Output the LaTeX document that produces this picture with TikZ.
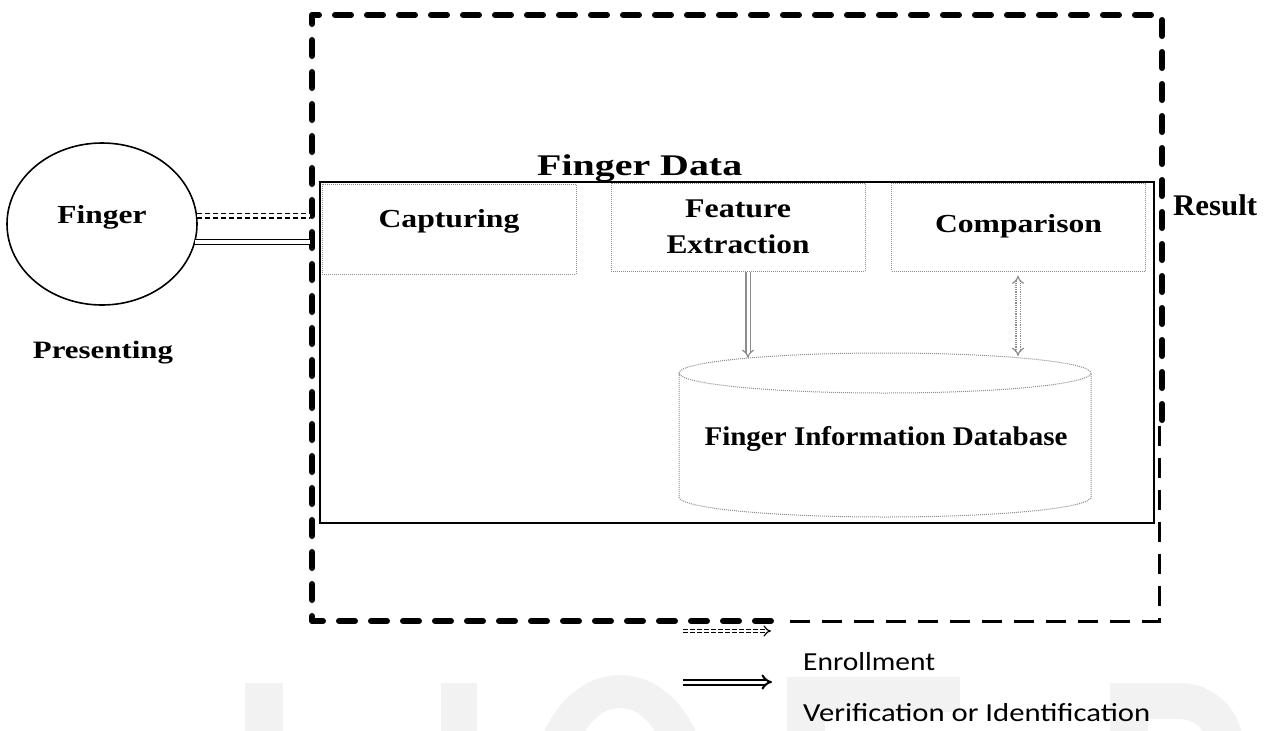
\documentclass[tikz,border=0pt]{standalone}
\usepackage{fontspec}
\setmainfont{Liberation Serif}
\newfontfamily\legendfont{Carlito}
\usetikzlibrary{arrows.meta,shapes.geometric}
\newcommand\fitw[2]{\resizebox{#1pt}{\height}{#2}}
\definecolor{wmgray}{gray}{0.95}
\definecolor{boxgray}{gray}{0.55}
\begin{document}
\begin{tikzpicture}[x=1pt,y=-1pt,
  lbl/.style={inner sep=0pt, anchor=base, font=\bfseries\fontsize{26}{30}\selectfont},
  stagebox/.style={draw=boxgray, densely dotted, line width=1pt, inner sep=0pt, minimum width=254pt, font=\bfseries\fontsize{26}{30}\selectfont},
  border/.style={line width=6pt, dash pattern=on 16pt off 16pt, line cap=round, line join=round},
  thinborder/.style={line width=3pt, dash pattern=on 20pt off 12pt},
  dbline/.style={draw=boxgray, densely dotted, line width=1pt},
  garrow/.style={draw=boxgray, double, double distance=3pt, line width=1.2pt, -{Implies}},
  garrowtwo/.style={draw=boxgray, double, double distance=3pt, line width=1.2pt, densely dotted, {Implies}-{Implies}},
  dashdbl/.style={double, double distance=3pt, line width=1.5pt, dash pattern=on 5pt off 3pt},
  soliddbl/.style={double, double distance=3.5pt, line width=1.5pt},
  legdash/.style={double, double distance=2.5pt, line width=1.2pt, dash pattern=on 5pt off 2pt, -{Implies}},
  legsolid/.style={double, double distance=3pt, line width=2pt, -{Implies}},
  legtext/.style={inner sep=0pt, anchor=base west, font=\legendfont\fontsize{26}{30}\selectfont}
]
\useasboundingbox (0,0) rectangle (1264,731);

% faint watermark
\begin{scope}
\clip (0,0) rectangle (1264,731);
\fill[wmgray] (245,683) rectangle (283,735);
\fill[wmgray] (441,683) rectangle (477,735);
\fill[wmgray, even odd rule] (620,790) ellipse [x radius=88, y radius=115] (620,790) ellipse [x radius=50, y radius=82];
\fill[wmgray] (787,677) rectangle (825,735);
\fill[wmgray] (787,677) rectangle (960,712);
\fill[wmgray] (1110,683) rectangle (1148,735);
\draw[wmgray, line width=36pt] (1140,701) -- (1180,701) arc[start angle=-90, end angle=90, radius=45];
\end{scope}

% outer dashed boundary
\draw[border] (1162,420) -- (1162,15) -- (312,15) -- (312,621) -- (786,621);
\draw[thinborder] (790,621) -- (1159,621) -- (1159,420);
\coordinate (bx) at (310,0);

% inner system box
\node[draw, line width=2pt, minimum width=834pt, minimum height=341pt, inner sep=0pt] (sys) at (737,352.5) {};

% finger
\node[ellipse, draw, line width=1.6pt, minimum width=190pt, minimum height=162pt, inner sep=0pt,
      text height=10pt, text depth=12pt, font=\bfseries\fontsize{26}{30}\selectfont] (finger) at (102,224) {\fitw{89}{Finger}};

\draw[dashdbl] (finger.5) -- (finger.5 -| bx);
\draw[soliddbl] (finger.-11) -- (finger.-11 -| bx);

% labels
\node[lbl, font=\bfseries\fontsize{25}{30}\selectfont] (presenting) at (103,358) {\fitw{140}{Presenting}};
\node[lbl, anchor=base west, font=\bfseries\fontsize{30}{34}\selectfont] (fdata) at (537,175) {\fitw{205}{Finger Data}};
\node[lbl, anchor=base west, font=\bfseries\fontsize{30}{34}\selectfont] (result) at (1173,215) {\fitw{84}{Result}};

% stage boxes
\node[stagebox, text height=43pt, text depth=47pt, anchor=base] (cap) at (449,227) {\fitw{141}{Capturing}};
\node[stagebox, minimum height=88pt, align=center, font=\bfseries\fontsize{27}{36}\selectfont] (feat) at (738,227) {\fitw{106}{Feature}\\\fitw{143}{Extraction}};
\node[stagebox, text height=49pt, text depth=39pt, anchor=base] (comp) at (1018.5,232) {\fitw{167}{Comparison}};

% database cylinder
\draw[dbline] (679,373) -- (679,497) arc[start angle=180, end angle=0, x radius=206, y radius=20] -- (1091,373);
\draw[dbline] (885,373) ellipse [x radius=206, y radius=20];
\node[lbl, font=\bfseries\fontsize{27}{30}\selectfont] (db) at (886,445) {\fitw{363}{Finger Information Database}};
\coordinate (dbA) at (748,358);
\coordinate (dbB) at (1018,356);

\draw[garrow] (feat.south -| dbA) -- (dbA);
\draw[garrowtwo, shorten <=4pt] (comp.south -| dbB) -- (dbB);

% legend
\coordinate (l1a) at (683,631);
\coordinate (l1b) at (771,631);
\coordinate (l2a) at (683,682);
\coordinate (l2b) at (772,682);
\draw[legdash] (l1a) -- (l1b);
\draw[legsolid] (l2a) -- (l2b);
\node[legtext] (enr) at (803,670) {\fitw{132}{Enrollment}};
\node[legtext] (ver) at (803,721) {\fitw{347}{Verification or Identification}};
\end{tikzpicture}
\end{document}
